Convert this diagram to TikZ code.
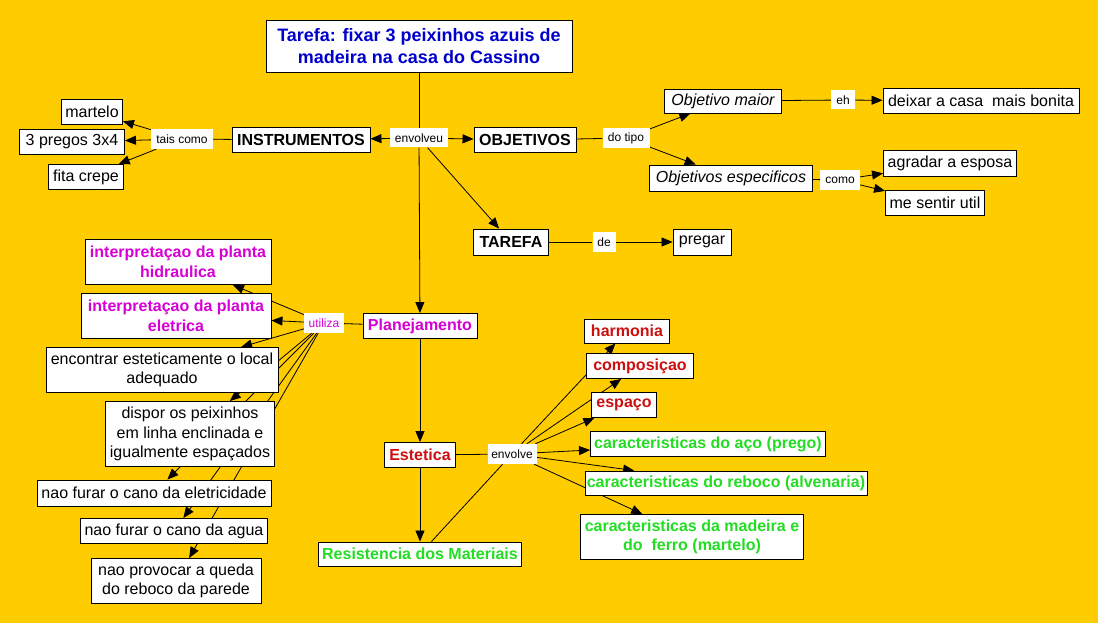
\documentclass[tikz,border=0pt]{standalone}
\usepackage{fontspec}
\setmainfont{Liberation Sans}
\usetikzlibrary{arrows.meta}
\pgfdeclarelayer{bg}
\pgfdeclarelayer{background}
\pgfsetlayers{bg,background,main}
\definecolor{bgyellow}{RGB}{255,204,0}
\definecolor{tblue}{RGB}{0,0,204}
\definecolor{tmag}{RGB}{214,0,214}
\definecolor{tred}{RGB}{204,16,16}
\definecolor{tgreen}{RGB}{34,221,34}
\tikzset{
 box/.style={draw=black, fill=white, line width=0.9pt, inner sep=0pt, align=center, font=\fontsize{16}{19.5}\selectfont},
 bbox/.style={box, font=\fontsize{16}{19.5}\selectfont\bfseries},
 ibox/.style={box, font=\fontsize{16}{19.5}\selectfont\itshape},
 lbl/.style={fill=white, inner sep=0pt, font=\fontsize{12}{14}\selectfont},
 con/.style={draw=black, line width=0.8pt},
 arr/.style={con, -{Triangle[length=11pt,width=9pt]}},
}
\begin{document}
\begin{tikzpicture}[x=1pt,y=-1pt]
\begin{pgfonlayer}{bg}
\fill[bgyellow] (0,0) rectangle (1098,623);
\end{pgfonlayer}
\useasboundingbox (0,0) rectangle (1098,623);

\node[bbox, text=tblue, font=\fontsize{18}{22}\selectfont\bfseries, minimum width=306pt, minimum height=52pt] (title) at (419,46) {Tarefa: fixar 3 peixinhos azuis de\\madeira na casa do Cassino};
\node[lbl, minimum width=58pt, minimum height=19pt] (envolveu) at (419,138) {envolveu};
\node[bbox, minimum width=138pt, minimum height=25pt] (instr) at (301,140) {INSTRUMENTOS};
\node[lbl, minimum width=62pt, minimum height=20pt] (tais) at (182,139) {tais como};
\node[box, minimum width=61pt, minimum height=25pt] (martelo) at (92,112) {martelo};
\node[box, minimum width=105pt, minimum height=25pt] (pregos) at (72,142) {3 pregos 3x4};
\node[box, minimum width=75pt, minimum height=25pt] (fita) at (86,177) {fita crepe};
\node[bbox, minimum width=102pt, minimum height=25pt] (objetivos) at (525,140) {OBJETIVOS};
\node[lbl, minimum width=47pt, minimum height=20pt] (dotipo) at (626,138) {do tipo};
\node[ibox, minimum width=117pt, minimum height=24pt] (objmaior) at (723,101) {Objetivo maior};
\node[lbl, minimum width=24pt, minimum height=19pt] (eh) at (843,100) {eh};
\node[box, minimum width=196pt, minimum height=25pt] (deixar) at (981,101) {deixar a casa\ \ mais bonita};
\node[ibox, minimum width=163pt, minimum height=26pt] (objesp) at (731,178) {Objetivos especificos};
\node[lbl, minimum width=40pt, minimum height=19pt] (como) at (840,180) {como};
\node[box, minimum width=133pt, minimum height=26pt] (agradar) at (950,163) {agradar a esposa};
\node[box, minimum width=99pt, minimum height=25pt] (util) at (935,203) {me sentir util};
\node[bbox, minimum width=75pt, minimum height=26pt] (tarefa) at (511,242) {TAREFA};
\node[lbl, minimum width=23pt, minimum height=20pt] (de) at (604,242) {de};
\node[box, minimum width=58pt, minimum height=26pt] (pregar) at (702,242) {pregar};

\node[bbox, text=tmag, minimum width=186pt, minimum height=45pt] (hidr) at (178,262) {interpretaçao da planta\\hidraulica};
\node[bbox, text=tmag, minimum width=190pt, minimum height=45pt] (eletr) at (176,316) {interpretaçao da planta\\eletrica};
\node[lbl, text=tmag, minimum width=40pt, minimum height=20pt] (utiliza) at (324,323) {utiliza};
\node[bbox, text=tmag, minimum width=114pt, minimum height=25pt] (plan) at (420,326) {Planejamento};
\node[box, minimum width=232pt, minimum height=45pt] (encontrar) at (162,370) {encontrar esteticamente o local\\adequado};
\node[box, minimum width=169pt, minimum height=65pt] (dispor) at (190,434) {dispor os peixinhos\\em linha enclinada e\\igualmente espaçados};
\node[box, minimum width=234pt, minimum height=26pt] (naoelet) at (154,493) {nao furar o cano da eletricidade};
\node[box, minimum width=187pt, minimum height=25pt] (naoagua) at (174,531) {nao furar o cano da agua};
\node[box, minimum width=170pt, minimum height=45pt] (naoprov) at (176,581) {nao provocar a queda\\do reboco da parede};

\node[bbox, text=tred, minimum width=71pt, minimum height=25pt] (estetica) at (420,455) {Estetica};
\node[lbl, minimum width=49pt, minimum height=20pt] (envolve) at (512,454) {envolve};
\node[bbox, text=tgreen, minimum width=203pt, minimum height=24pt] (resist) at (420,554) {Resistencia dos Materiais};
\node[bbox, text=tred, minimum width=85pt, minimum height=24pt] (harmonia) at (627,331) {harmonia};
\node[bbox, text=tred, minimum width=107pt, minimum height=25pt] (compos) at (640,366) {composiçao};
\node[bbox, text=tred, minimum width=65pt, minimum height=25pt] (espaco) at (624,405) {espaço};
\node[bbox, text=tgreen, minimum width=235pt, minimum height=25pt] (aco) at (708,444) {caracteristicas do aço (prego)};
\node[bbox, text=tgreen, minimum width=282pt, minimum height=24pt] (reboco) at (726,483) {caracteristicas do reboco (alvenaria)};
\node[bbox, text=tgreen, minimum width=223pt, minimum height=45pt] (madeira) at (692,537) {caracteristicas da madeira e\\do\ \ ferro (martelo)};

\begin{pgfonlayer}{background}
\draw[con] (title) -- (envolveu);
\draw[arr] (envolveu) -- (instr);
\draw[arr] (envolveu) -- (objetivos);
\draw[arr] (envolveu) -- (tarefa);
\draw[arr] (envolveu) -- (plan);
\draw[con] (instr) -- (tais);
\draw[arr] (tais) -- (martelo);
\draw[arr] (tais) -- (pregos);
\draw[arr] (tais) -- (fita);
\draw[con] (objetivos) -- (dotipo);
\draw[arr] (dotipo) -- (objmaior);
\draw[arr] (dotipo) -- (objesp);
\draw[con] (objmaior) -- (eh);
\draw[arr] (eh) -- (deixar);
\draw[con] (objesp) -- (como);
\draw[arr] (como) -- (agradar);
\draw[arr] (como) -- (util);
\draw[con] (tarefa) -- (de);
\draw[arr] (de) -- (pregar);
\draw[con] (plan) -- (utiliza);
\draw[arr] (utiliza) -- (hidr);
\draw[arr] (utiliza) -- (eletr);
\draw[arr] (utiliza) -- (encontrar);
\draw[arr] (utiliza) -- (dispor);
\draw[arr] (utiliza) -- (naoelet);
\draw[arr] (utiliza) -- (naoagua);
\draw[arr] (utiliza) -- (naoprov);
\draw[arr] (plan) -- (estetica);
\draw[arr] (estetica) -- (resist);
\draw[con] (estetica) -- (envolve);
\draw[con] (resist) -- (envolve);
\draw[arr] (envolve) -- (harmonia);
\draw[arr] (envolve) -- (compos);
\draw[arr] (envolve) -- (espaco);
\draw[arr] (envolve) -- (aco);
\draw[arr] (envolve) -- (reboco);
\draw[arr] (envolve) -- (madeira);
\end{pgfonlayer}
\end{tikzpicture}
\end{document}
